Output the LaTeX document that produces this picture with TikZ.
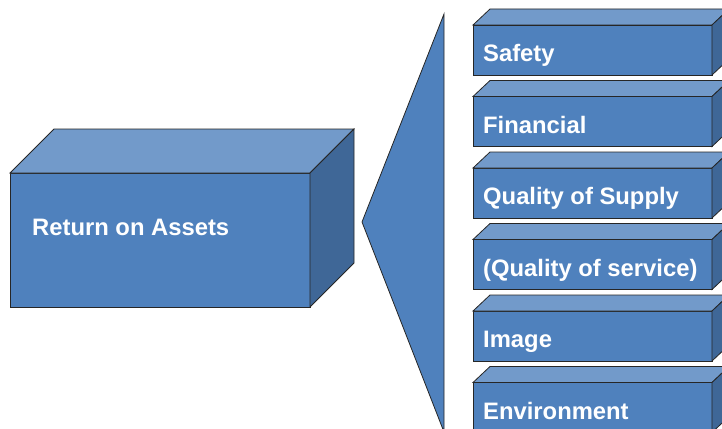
\documentclass[tikz,border=0pt]{standalone}
\usepackage{fontspec}
\setmainfont{Liberation Sans}
\definecolor{frontc}{HTML}{4F81BD}
\definecolor{topc}{HTML}{729ACA}
\definecolor{sidec}{HTML}{3F6797}
\tikzset{
  face/.style={draw=black!85, line width=0.8pt, line join=miter},
  lbl/.style={text=white, font=\bfseries\fontsize{23.8}{28}\selectfont, inner sep=0pt, anchor=base west}
}
% #1 x, #2 y (front top-left), #3 width, #4 height, #5 depth x, #6 depth y
\newcommand\mycuboid[6]{%
  \fill[frontc,face] (#1,#2) rectangle ++(#3,#4);
  \fill[topc,face] (#1,#2) -- ++(#5,-#6) -- ++(#3,0) -- ++(-#5,#6) -- cycle;
  \fill[sidec,face] (#1+#3,#2) -- ++(#5,-#6) -- ++(0,#4) -- ++(-#5,#6) -- cycle;
}
\begin{document}
\begin{tikzpicture}[x=1pt,y=-1pt]
\useasboundingbox (0,0) rectangle (722,428);
\clip (0,0) rectangle (722,428);
% big cube
\mycuboid{10}{173}{300}{134}{44}{44}
\node[lbl] (roa) at (32,235) {Return on Assets};
% triangle
\fill[frontc,face] (362,222) -- (444,14) -- (444,432) -- cycle;
% small cubes
\foreach \t/\n [count=\i from 0] in {Safety/saf,Financial/fin,Quality of Supply/qos,(Quality of service)/qsv,Image/img,Environment/env}{
  \pgfmathsetmacro\yy{25+71.5*\i}
  \mycuboid{473}{\yy}{239}{50}{17}{16}
  \node[lbl] (\n) at (483,\yy+36.7) {\t};
}
\end{tikzpicture}
\end{document}
